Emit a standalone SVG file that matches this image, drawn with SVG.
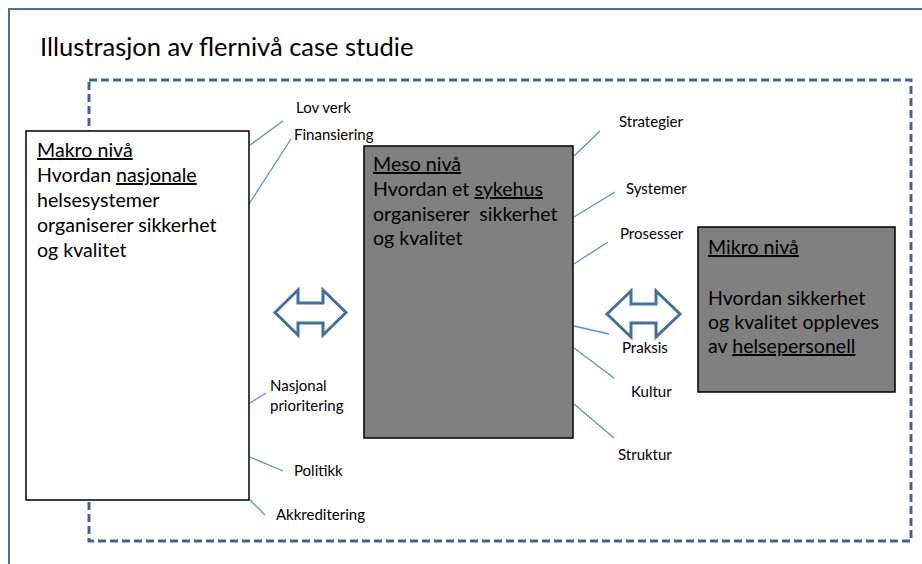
<svg xmlns="http://www.w3.org/2000/svg" width="922" height="564" viewBox="0 0 922 564">
<style>
text{font-family:Lato,"Open Sans","Liberation Sans",sans-serif;fill:#000}
.big{font-size:19.6px}
.sm{font-size:15px}
.u{text-decoration:underline}
.lk{stroke:#5b8fd0;stroke-width:1.3;fill:none}
.box{stroke:#000;stroke-width:1.5}
.arr{fill:#fff;stroke:#41719c;stroke-width:3;stroke-linejoin:miter}
</style>
<rect x="0" y="0" width="922" height="564" fill="#fff"/>
<g id="frame">
<path d="M9,570 V9 H930" fill="none" stroke="#4a6e9c" stroke-width="2"/>
</g>
<text id="title" x="40" y="56" font-size="25.5">Illustrasjon av flernivå case studie</text>
<g id="case-boundary">
<rect x="89" y="80" width="822" height="461" fill="none" stroke="#3c6496" stroke-width="3" stroke-dasharray="8,4"/>
</g>
<g id="connectors">
<line class="lk" x1="250" y1="145" x2="283" y2="121"/>
<line class="lk" x1="249" y1="204" x2="291" y2="139"/>
<line class="lk" x1="250" y1="403" x2="266" y2="393"/>
<line class="lk" x1="250" y1="457" x2="283" y2="471"/>
<line class="lk" x1="250" y1="500" x2="265" y2="515"/>
<line class="lk" x1="574" y1="156" x2="600" y2="131"/>
<line class="lk" x1="574" y1="217" x2="615" y2="192"/>
<line class="lk" x1="574" y1="264" x2="608" y2="242"/>
<line class="lk" x1="574" y1="326" x2="609" y2="334"/>
<line class="lk" x1="574" y1="348" x2="614" y2="378"/>
<line class="lk" x1="574" y1="404" x2="614" y2="438"/>
</g>
<g id="makro">
<rect class="box" x="26" y="131" width="223" height="369" fill="#fff"/>
<text class="big" x="37" y="157"><tspan class="u">Makro nivå</tspan></text>
<text class="big" x="37" y="182">Hvordan <tspan class="u">nasjonale</tspan></text>
<text class="big" x="37" y="207">helsesystemer</text>
<text class="big" x="37" y="232">organiserer sikkerhet</text>
<text class="big" x="37" y="257">og kvalitet</text>
</g>
<g id="meso">
<rect class="box" x="364" y="146" width="209" height="292" fill="#808080"/>
<text class="big" x="373" y="171"><tspan class="u">Meso nivå</tspan></text>
<text class="big" x="373" y="196">Hvordan et <tspan class="u">sykehus</tspan></text>
<text class="big" x="373" y="221" xml:space="preserve">organiserer  sikkerhet</text>
<text class="big" x="373" y="245">og kvalitet</text>
</g>
<g id="mikro">
<rect class="box" x="698" y="227" width="197" height="165" fill="#808080"/>
<text class="big" x="708" y="254"><tspan class="u">Mikro nivå</tspan></text>
<text class="big" x="708" y="305">Hvordan sikkerhet</text>
<text class="big" x="708" y="329">og kvalitet oppleves</text>
<text class="big" x="708" y="353">av <tspan class="u">helsepersonell</tspan></text>
</g>
<g id="arrow-makro-meso">
<path class="arr" d="M275,312.5 L298,290 V303 H323 V290 L346,312.5 L323,335 V323 H298 V335 Z"/>
</g>
<g id="arrow-meso-mikro">
<path class="arr" d="M607,314 L631,291 V304 H656 V291 L680,314 L656,337 V323 H631 V337 Z"/>
</g>
<g id="labels">
<text class="sm" x="296" y="113">Lov verk</text>
<text class="sm" x="294" y="140">Finansiering</text>
<text class="sm" x="270" y="391">Nasjonal</text>
<text class="sm" x="270" y="411">prioritering</text>
<text class="sm" x="294" y="476">Politikk</text>
<text class="sm" x="276" y="520">Akkreditering</text>
<text class="sm" x="619" y="127">Strategier</text>
<text class="sm" x="626" y="194">Systemer</text>
<text class="sm" x="620" y="239">Prosesser</text>
<text class="sm" x="622" y="353">Praksis</text>
<text class="sm" x="631" y="397">Kultur</text>
<text class="sm" x="618" y="460">Struktur</text>
</g>
</svg>
